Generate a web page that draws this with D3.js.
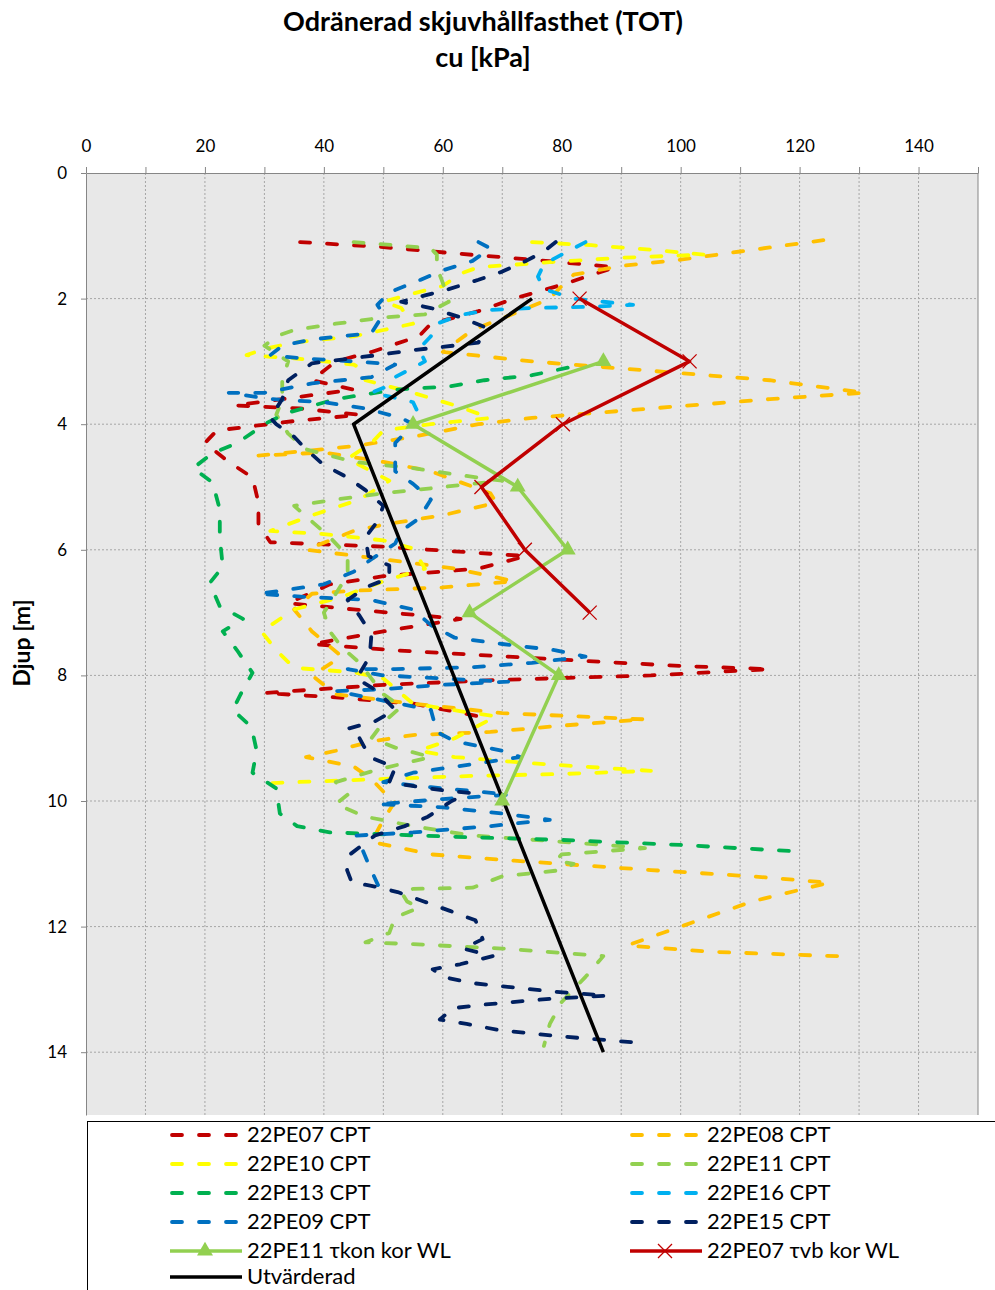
<!DOCTYPE html>
<html>
<head>
<meta charset="utf-8">
<script src="https://cdn.jsdelivr.net/npm/d3@7"></script>
<style>
  body { margin: 0; background: #fff; }
  text { font-family: Lato, "Open Sans", sans-serif; }
</style>
</head>
<body>
<script>
// cu [kPa] vs depth [m], each point is [value, depth]
let pe07Cpt = [[36,1.10],[50,1.18],[62,1.28],[75,1.38],[89,1.50],[80,1.78],[72,2.0],[66,2.2],[58,2.4],[56,2.6],[48,2.85],[42,3.0],[38,3.3],[45,3.45],[33,3.6],[25,3.7],[36,3.75],[46,3.85],[35,3.95],[22,4.1],[20,4.3],[24,4.6],[28,4.85],[29,5.25],[29,5.6],[31,5.88],[50,5.95],[74,6.1],[66,6.3],[50,6.42],[41,6.55],[34,6.85],[45,6.95],[63,7.1],[50,7.3],[38,7.5],[52,7.6],[80,7.75],[100,7.85],[115,7.9],[95,8.0],[70,8.07],[50,8.15],[30,8.28],[42,8.35],[55,8.45],[66,8.65]];
let pe08Cpt = [[124,1.07],[110,1.25],[100,1.38],[90,1.48],[82,1.62],[80,1.8],[78,2.0],[73,2.2],[65,2.5],[60,2.85],[75,3.0],[95,3.15],[115,3.3],[131,3.5],[115,3.6],[95,3.75],[75,3.9],[66,4.0],[55,4.2],[45,4.35],[29,4.5],[40,4.45],[50,4.6],[58,4.75],[68,5.1],[69,5.25],[60,5.45],[50,5.6],[45,5.7],[37,6.0],[50,6.15],[62,6.3],[72,6.5],[60,6.6],[45,6.65],[38,6.7],[35,6.95],[38,7.3],[43,7.7],[38,8.0],[42,8.3],[55,8.45],[70,8.6],[94,8.7],[80,8.8],[68,8.9],[55,8.95],[48,9.05],[42,9.2],[37,9.3],[45,9.45],[48,9.65],[50,9.85],[52,10.0],[50,10.3],[48,10.65],[58,10.85],[72,10.95],[95,11.1],[112,11.2],[125,11.3],[112,11.6],[100,12.0],[91,12.3],[105,12.4],[129,12.48]];
let pe10Cpt = [[75,1.1],[85,1.15],[95,1.22],[104,1.3],[90,1.35],[78,1.42],[66,1.5],[63,1.6],[60,1.8],[55,1.92],[50,2.05],[53,2.15],[55,2.4],[50,2.5],[45,2.6],[35,2.7],[30,2.8],[27,2.9],[35,2.95],[45,3.05],[46,3.1],[47,3.3],[55,3.5],[62,3.7],[68,3.9],[58,4.0],[50,4.1],[48,4.3],[44,4.55],[48,4.75],[51,4.9],[46,5.2],[38,5.45],[31,5.7],[40,5.75],[50,5.85],[55,5.98],[57,6.3],[50,6.5],[43,6.75],[35,6.95],[29.5,7.3],[32,7.6],[35,7.88],[45,7.95],[50,8.05],[55,8.45],[65,8.6],[69,8.65],[62,9.0],[56,9.2],[62,9.3],[75,9.4],[95,9.52],[80,9.57],[65,9.6],[50,9.65],[35,9.7],[30,9.72]];
let pe11Cpt = [[45,1.1],[52,1.15],[58,1.2],[59,1.3],[59,1.5],[60,1.75],[61,2.05],[57,2.25],[50,2.3],[42,2.4],[35,2.5],[32,2.6],[30,2.75],[34,3.0],[33,3.3],[33,3.6],[32,3.85],[34,4.15],[37,4.4],[45,4.6],[55,4.7],[62,4.8],[70,4.9],[60,5.0],[50,5.1],[42,5.2],[35,5.3],[38,5.55],[41,5.8],[44,6.1],[44,6.4],[42,6.7],[40,7.0],[41,7.3],[43,7.55],[46,7.8],[48,8.05],[50,8.3],[53,8.5],[50,8.75],[48,9.0],[52,9.15],[58,9.3],[49,9.5],[42,9.7],[44,9.9],[42,10.05],[47,10.25],[55,10.4],[65,10.55],[80,10.65],[94,10.75],[80,10.85],[79,10.95],[82,11.0],[80,11.1],[70,11.2],[65,11.38],[55,11.4],[53,11.45],[54,11.6],[56,11.7],[52,11.85],[51,12.1],[47,12.25],[55,12.28],[70,12.35],[87,12.47],[84,12.8],[80,13.2],[78,13.55],[77,13.9]];
let pe13Cpt = [[81,3.1],[75,3.22],[67,3.3],[61,3.4],[52,3.45],[42,3.6],[37.6,3.72],[33.8,3.82],[30.4,3.98],[25.4,4.3],[21.3,4.46],[18,4.7],[21.3,4.93],[22.5,5.36],[22.5,5.8],[23,6.27],[20.8,6.53],[22.5,6.9],[26.4,7.1],[23,7.3],[25.4,7.6],[28,7.96],[26,8.3],[24.7,8.55],[27,8.75],[28,8.9],[28.7,9.2],[28,9.55],[32,9.8],[32.6,10.2],[35.5,10.4],[41,10.5],[50,10.53],[62,10.57],[80,10.62],[100,10.7],[119,10.8]];
let pe16Cpt = [[84,1.1],[80,1.3],[77,1.45],[76,1.65],[77,1.85],[82,2.0],[87,2.05],[92,2.1],[85,2.13],[75,2.15],[68,2.18],[63,2.26],[59,2.4],[58,2.6],[56,2.8],[57,3.0],[55,3.1],[52,3.25],[50.6,3.4],[48,3.5],[52,3.58],[55,3.65],[56,3.85],[56,4.0]];
let pe09Cpt = [[66,1.1],[68,1.2],[65,1.4],[60,1.55],[55,1.75],[51,1.9],[49,2.1],[50,2.25],[48,2.55],[43,2.6],[38,2.65],[33,2.75],[31,2.9],[36,2.95],[45,3.0],[52,3.05],[48,3.25],[43,3.3],[38,3.35],[30,3.5],[24,3.5],[31,3.6],[40,3.65],[47,3.75],[53,3.9],[55,4.0],[52,4.3],[52,4.75],[55,4.95],[58,5.2],[56,5.5],[53,5.7],[52,5.9],[48,6.15],[45,6.35],[40,6.55],[33,6.65],[29,6.7],[37,6.75],[48,6.8],[55,6.95],[58,7.2],[62,7.4],[70,7.5],[79,7.6],[84,7.7],[75,7.8],[65,7.87],[52,7.9],[44,7.9],[50,8.0],[60,8.05],[71,8.1],[60,8.15],[50,8.22],[42,8.25],[50,8.4],[58,8.55],[59,8.9],[62,9.05],[70,9.2],[73,9.3],[66,9.4],[55,9.55],[50,9.7],[58,9.78],[66,9.85],[71,9.9],[60,9.97],[49,10.05],[60,10.1],[70,10.2],[78,10.3],[68,10.4],[55,10.5],[45.5,10.55],[46.6,10.8],[47.7,11.05],[49.4,11.4]];
let pe15Cpt = [[79,1.1],[77,1.25],[74,1.4],[70,1.57],[66,1.7],[61,1.85],[57,1.95],[53,2.05],[58,2.15],[63,2.3],[67,2.45],[66,2.7],[60,2.77],[55,2.82],[49,2.9],[43,2.97],[38,3.03],[34,3.3],[33,3.6],[31,3.9],[32,4.0],[35,4.2],[37,4.4],[40,4.65],[44,4.85],[47,5.05],[50,5.3],[49,5.55],[47,5.8],[47.5,6.1],[51,6.25],[51,6.45],[47,6.6],[44,6.8],[46,7.05],[48,7.35],[47.7,7.7],[45.5,8.05],[49,8.25],[52,8.55],[48.6,8.73],[44,8.85],[46,9.0],[47.7,9.3],[52,9.47],[51,9.7],[55.5,9.77],[60,9.83],[64.5,9.87],[61.5,10.0],[57.5,10.25],[53.6,10.4],[48.6,10.55],[44.4,10.85],[43.9,11.1],[44.7,11.3],[48,11.35],[52.4,11.45],[56.8,11.6],[61.2,11.75],[65.5,11.9],[66.7,12.2],[63.4,12.35],[68.4,12.47],[62.9,12.6],[58.3,12.68],[60,12.8],[65,12.9],[78,13.03],[87.6,13.1],[78,13.15],[66,13.25],[61.7,13.3],[59.5,13.48],[64,13.55],[69.6,13.65],[80,13.75],[93,13.85]];
let pe11Tkon = [[87,3],[55,4],[72.6,5],[81,6],[64.5,7],[79.5,8],[70,10]];
let pe07Tvb = [[83,2],[101.5,3],[80.2,4],[66.5,5],[73.8,6],[84.7,7]];
let utvarderad = [[75,2],[45,4],[87,14]];

let xTicks = d3.range(0, 150, 10);
let yTicks = d3.range(0, 15, 2);

let width = 995;
let height = 1290;
let plot = {left: 86, right: 978, top: 173, bottom: 1115};

let x = d3.scaleLinear().domain([0, 150]).range([plot.left, plot.right]);
let y = d3.scaleLinear().domain([0, 15]).range([plot.top, plot.bottom]);

let svg = d3.select('body')
    .append('svg')
    .attr('width', width)
    .attr('height', height);

svg.append('rect')
    .attr('x', plot.left).attr('y', plot.top)
    .attr('width', plot.right - plot.left)
    .attr('height', plot.bottom - plot.top)
    .attr('fill', '#e8e8e8');

// dotted grid
svg.append('g').selectAll('line')
    .data(xTicks.slice(1))
  .enter().append('line')
    .attr('x1', d => x(d)).attr('x2', d => x(d))
    .attr('y1', plot.top).attr('y2', plot.bottom)
    .attr('stroke', '#a6a6a6').attr('stroke-dasharray', '2,2');

svg.append('g').selectAll('line')
    .data(yTicks.slice(1))
  .enter().append('line')
    .attr('x1', plot.left).attr('x2', plot.right)
    .attr('y1', d => y(d)).attr('y2', d => y(d))
    .attr('stroke', '#a6a6a6').attr('stroke-dasharray', '2,2');

svg.append('line')
    .attr('x1', plot.right).attr('x2', plot.right)
    .attr('y1', plot.top).attr('y2', plot.bottom)
    .attr('stroke', '#868686');

let xAxis = svg.append('g')
    .attr('transform', `translate(0,${plot.top})`)
    .call(d3.axisTop(x).tickValues(xTicks.concat([150])).tickSize(6).tickSizeOuter(0).tickPadding(15)
        .tickFormat(d => d % 20 === 0 && d < 150 ? d : ''));

let yAxis = svg.append('g')
    .attr('transform', `translate(${plot.left},0)`)
    .call(d3.axisLeft(y).tickValues(yTicks).tickSize(5).tickSizeOuter(0).tickPadding(14));

[xAxis, yAxis].forEach(a => {
  a.selectAll('path, line').attr('stroke', '#868686');
  a.selectAll('text').attr('font-size', 17).attr('fill', '#000')
      .style('font-family', 'Lato, sans-serif');
});

// titles
svg.append('text')
    .attr('x', 483).attr('y', 31)
    .attr('text-anchor', 'middle')
    .attr('font-size', 27).attr('font-weight', 'bold')
    .text('Odränerad skjuvhållfasthet (TOT)');
svg.append('text')
    .attr('x', 483).attr('y', 67)
    .attr('text-anchor', 'middle')
    .attr('font-size', 27).attr('font-weight', 'bold')
    .text('cu [kPa]');
svg.append('text')
    .attr('transform', 'translate(30,643) rotate(-90)')
    .attr('text-anchor', 'middle')
    .attr('font-size', 23).attr('font-weight', 'bold')
    .text('Djup [m]');

let series = [
  {name: '22PE07 CPT', data: pe07Cpt, color: '#c00000', dash: true},
  {name: '22PE08 CPT', data: pe08Cpt, color: '#ffc000', dash: true},
  {name: '22PE10 CPT', data: pe10Cpt, color: '#ffff00', dash: true},
  {name: '22PE11 CPT', data: pe11Cpt, color: '#92d050', dash: true},
  {name: '22PE13 CPT', data: pe13Cpt, color: '#00b050', dash: true},
  {name: '22PE16 CPT', data: pe16Cpt, color: '#00b0f0', dash: true},
  {name: '22PE09 CPT', data: pe09Cpt, color: '#0070c0', dash: true},
  {name: '22PE15 CPT', data: pe15Cpt, color: '#002060', dash: true},
  {name: '22PE11 τkon kor WL', data: pe11Tkon, color: '#92d050', marker: 'triangle'},
  {name: '22PE07 τvb kor WL', data: pe07Tvb, color: '#c00000', marker: 'cross'},
  {name: 'Utvärderad', data: utvarderad, color: '#000000'}
];

let line = d3.line().x(d => x(d[0])).y(d => y(d[1]));

let plotArea = svg.append('g');

series.forEach(s => {
  plotArea.append('path')
      .datum(s.data)
      .attr('d', line)
      .attr('fill', 'none')
      .attr('stroke', s.color)
      .attr('stroke-width', s.dash ? 3.8 : 3.5)
      .attr('stroke-linecap', s.dash ? 'round' : 'butt')
      .attr('stroke-linejoin', 'round')
      .attr('stroke-dasharray', s.dash ? '10,17' : null);
});

function drawMarker(g, type, color, px, py) {
  if (type === 'triangle') {
    g.append('path')
        .attr('d', d3.symbol(d3.symbolTriangle, 110)())
        .attr('transform', `translate(${px},${py})`)
        .attr('fill', color);
  } else if (type === 'cross') {
    g.append('path')
        .attr('d', `M${px - 7},${py - 7}L${px + 7},${py + 7}M${px - 7},${py + 7}L${px + 7},${py - 7}`)
        .attr('stroke', color).attr('stroke-width', 1.3);
  }
}

series.filter(s => s.marker).forEach(s => {
  s.data.forEach(d => drawMarker(plotArea, s.marker, s.color, x(d[0]), y(d[1])));
});

// legend, running off the right and bottom edges as in the original
let legend = svg.append('g');
legend.append('rect')
    .attr('x', 87.5).attr('y', 1121.5)
    .attr('width', 1000).attr('height', 300)
    .attr('fill', '#fff').attr('stroke', '#000');

let legendPos = [
  [170, 1135], [630, 1135],
  [170, 1164], [630, 1164],
  [170, 1193], [630, 1193],
  [170, 1222], [630, 1222],
  [170, 1251], [630, 1251],
  [170, 1277]
];

series.forEach((s, i) => {
  let [lx, ly] = legendPos[i];
  legend.append('line')
      .attr('x1', s.dash ? lx + 2 : lx).attr('x2', lx + 72)
      .attr('y1', ly).attr('y2', ly)
      .attr('stroke', s.color)
      .attr('stroke-width', s.dash ? 3.8 : 3.5)
      .attr('stroke-linecap', s.dash ? 'round' : 'butt')
      .attr('stroke-dasharray', s.dash ? '10,17' : null);
  if (s.marker) drawMarker(legend, s.marker, s.color, lx + 35, ly);
  legend.append('text')
      .attr('x', lx + 77).attr('y', ly + 7)
      .attr('font-size', 22)
      .text(s.name);
});
</script>
</body>
</html>
